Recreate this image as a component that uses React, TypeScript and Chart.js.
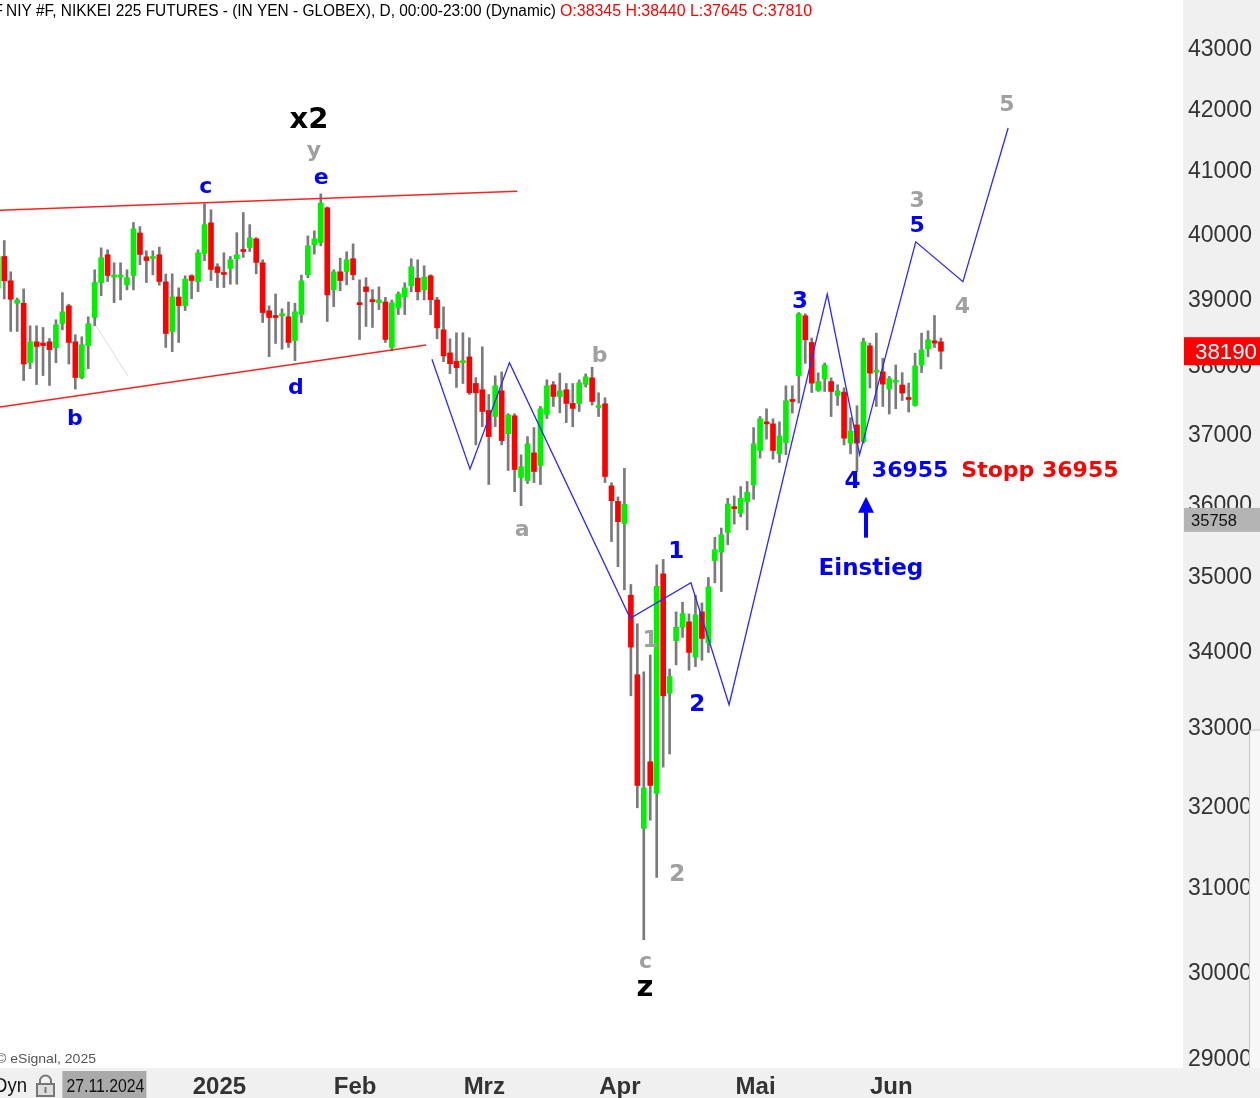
import React, { useEffect, useRef } from 'react';
import { Chart, registerables } from 'chart.js';

Chart.register(...registerables);

// ---------- DATA ----------
const dates = [
  '2024-11-13','2024-11-14','2024-11-15','2024-11-18','2024-11-19','2024-11-20','2024-11-21','2024-11-22','2024-11-25','2024-11-26',
  '2024-11-27','2024-11-28','2024-11-29','2024-12-02','2024-12-03','2024-12-04','2024-12-05','2024-12-06','2024-12-09','2024-12-10',
  '2024-12-11','2024-12-12','2024-12-13','2024-12-16','2024-12-17','2024-12-18','2024-12-19','2024-12-20','2024-12-23','2024-12-24',
  '2024-12-26','2024-12-27','2024-12-30','2024-12-31',
  '2025-01-02','2025-01-03','2025-01-06','2025-01-07','2025-01-08','2025-01-09','2025-01-10','2025-01-13','2025-01-14','2025-01-15',
  '2025-01-16','2025-01-17','2025-01-21','2025-01-22','2025-01-23','2025-01-24','2025-01-27','2025-01-28','2025-01-29','2025-01-30','2025-01-31',
  '2025-02-03','2025-02-04','2025-02-05','2025-02-06','2025-02-07','2025-02-10','2025-02-11','2025-02-12','2025-02-13','2025-02-14',
  '2025-02-17','2025-02-18','2025-02-19','2025-02-20','2025-02-21','2025-02-24','2025-02-25','2025-02-26','2025-02-27','2025-02-28',
  '2025-03-03','2025-03-04','2025-03-05','2025-03-06','2025-03-07','2025-03-10','2025-03-11','2025-03-12','2025-03-13','2025-03-14',
  '2025-03-17','2025-03-18','2025-03-19','2025-03-20','2025-03-21','2025-03-24','2025-03-25','2025-03-26','2025-03-27','2025-03-28','2025-03-31',
  '2025-04-01','2025-04-02','2025-04-03','2025-04-04','2025-04-07','2025-04-08','2025-04-09','2025-04-10','2025-04-11','2025-04-14',
  '2025-04-15','2025-04-16','2025-04-17','2025-04-21','2025-04-22','2025-04-23','2025-04-24','2025-04-25','2025-04-28','2025-04-29','2025-04-30',
  '2025-05-01','2025-05-02','2025-05-05','2025-05-06','2025-05-07','2025-05-08','2025-05-09','2025-05-12','2025-05-13','2025-05-14',
  '2025-05-15','2025-05-16','2025-05-19','2025-05-20','2025-05-21','2025-05-22','2025-05-23','2025-05-27','2025-05-28','2025-05-29','2025-05-30',
  '2025-06-02','2025-06-03','2025-06-04','2025-06-05','2025-06-06','2025-06-09','2025-06-10','2025-06-11','2025-06-12',
];

const open = [
  39141,39627,39253,38911,38911,38019,38330,38311,38330,38244,
  38605,38871,38330,37800,38275,38695,39226,39653,39310,39310,
  39191,39334,39992,39622,39596,39653,39237,38485,39006,38875,
  39330,39242,39673,40150,39468,39376,39442,39592,39730,39766,
  39900,39530,38796,38721,38721,38706,38350,38740,39345,39807,
  39843,40387,39116,39391,39396,39592,38916,39160,38961,38920,
  38931,38245,38845,39006,39176,39294,39116,39330,38961,38510,
  38165,38040,38019,38105,37712,37620,37317,37230,37605,36981,
  37240,36354,36312,36706,36525,37260,37693,37522,37620,37420,
  37420,37697,37795,37361,37415,36236,36017,35710,34724,33663,
  31706,32540,32141,35014,33421,34114,34292,34365,33897,34499,
  34086,35196,35313,35584,35935,35852,36013,36250,36739,37148,
  37123,36692,36853,37474,37829,38721,38320,37610,37781,37741,
  37537,37586,36845,37108,36867,38270,37879,37883,37630,37732,
  37689,37503,37391,37985,38225,38345,38330,
];

const high = [
  39807,39874,39391,38990,39129,38570,38570,38545,38380,38661,
  39073,38896,38435,38405,38706,39422,39761,39730,39530,39530,
  39422,40155,40092,39715,39715,39772,39356,39360,39145,39330,
  39345,39730,40450,40355,39515,39684,39627,39997,40312,40123,
  39920,39576,38871,39052,38826,38931,38911,39340,39946,40024,
  40607,40400,39422,39602,39700,39823,39268,39299,39119,39160,
  39000,38961,39083,39222,39592,39576,39484,39345,39000,38856,
  38375,38465,38465,38390,37800,38255,37551,37825,37883,37270,
  37270,36678,36939,37069,37376,37766,37741,37864,37712,37712,
  37766,37854,37952,37576,37503,36280,36080,36484,34869,34339,
  33701,33924,35137,35211,33738,34499,34629,34470,34724,34619,
  34965,35517,35645,36061,36094,36226,36298,37069,37230,37342,
  37196,37152,37678,37678,38770,38751,38386,37868,38015,37795,
  37693,37649,37211,37386,38386,38311,38460,38085,37815,37985,
  37873,37718,38161,38460,38495,38725,38386,
];

const low = [
  38961,38976,38485,38485,37756,37931,37697,37829,37683,38019,
  38510,38000,37630,37780,37931,38570,39026,39242,38920,38961,
  39114,39114,39500,39226,39345,39186,38245,38184,38320,38800,
  38980,39088,39561,39257,39150,39150,39201,39201,39612,39704,
  39360,38620,38108,38305,38220,38245,38050,38620,39300,39664,
  39792,38635,38860,39103,39191,39268,38365,38560,38545,38815,
  38320,38199,38740,38740,39083,38961,38961,38736,38375,38035,
  37858,37654,37712,37551,36820,37083,36255,37083,36820,36454,
  36155,35957,36269,36283,36255,37200,37376,37284,37142,37083,
  37303,37660,37396,37230,36283,35458,35112,34797,33388,31961,
  30359,31807,31106,32472,32639,33794,34157,33723,33770,33854,
  33957,34892,34774,35414,35700,35800,35621,36047,36631,36902,
  36617,36568,36678,37279,37425,38010,37580,37595,37595,37230,
  37391,36820,36692,36440,36845,37645,37376,37376,37265,37342,
  37463,37294,37380,37873,38108,38245,37927,
];

const close = [
  39622,39253,38971,38961,38000,38330,38260,38275,38214,38585,
  38781,38320,37800,38285,38600,39226,39607,39334,39337,39337,
  39299,40055,39658,39565,39622,39242,38455,39006,38875,39279,
  39257,39684,40123,39427,39380,39350,39576,39653,39704,39915,
  39535,38770,38695,38695,38736,38320,38781,39253,39792,39900,
  40461,39037,39391,39257,39576,39345,38890,39088,38935,38961,
  38365,38916,39052,39145,39468,39086,39310,38965,38540,38120,
  38005,37946,38045,37576,37576,37303,36939,37678,36882,37254,
  36468,36507,36835,36440,37342,37678,37522,37605,37420,37347,
  37722,37810,37449,37386,36369,36027,35734,35976,34028,32241,
  32209,32241,34845,33388,33640,34292,34475,33957,34460,34143,
  34836,35344,35552,35981,35916,36061,36146,36835,37196,37123,
  36739,36949,37459,37449,38751,38360,37718,37741,37985,37595,
  37605,36916,37020,36845,38330,37864,37902,37703,37785,37756,
  37572,37478,37971,38210,38360,38311,38190,
];

// price-axis tick labels
const yTickValues = [29000,30000,31000,32000,33000,34000,35000,36000,37000,38000,39000,40000,41000,42000,43000];
// German month abbreviations for the time axis
const monthNames = ['Jan','Feb','Mrz','Apr','Mai','Jun','Jul','Aug','Sep','Okt','Nov','Dez'];
const firstLabelledMonth = '2025-01';

// Elliott-wave projection path (bar index, price)
const waveIdx = [67.2, 73.1, 79.2, 97.9, 107.3, 113.2, 128.4, 133.4, 142.1, 149.4, 156.4];
const wavePrice = [38070, 36474, 38020, 34412, 34892, 33272, 39051, 36679, 39854, 39239, 41663];

// triangle boundary lines
const upperLineIdx = [0.34, 80.4];
const upperLinePrice = [40347, 40647];
const lowerLineIdx = [0.34, 66.3];
const lowerLinePrice = [37367, 38281];
const helperIdx = [15.2, 20.2];
const helperPrice = [38570, 37814];

const stopPrice = 36955;
const markerPrice = 35758;
const titleInfo = 'NIY #F, NIKKEI 225 FUTURES - (IN YEN - GLOBEX), D, 00:00-23:00 (Dynamic)';
const titleOHLC = 'O:38345 H:38440 L:37645 C:37810';
const lockDate = '2024-11-27';

const BLUE = '#0000ff';
const GRAY = '#a0a0a0';
const BLACK = '#000000';
const RED = '#ff0000';
const GREEN = '#00f000';

// wave labels (text placed at bar index / price)
const waveLabels = [
  { text: 'x2', i: 48.0, p: 41827, color: BLACK, size: 29 },
  { text: 'y', i: 48.9, p: 41261, color: GRAY, size: 22 },
  { text: 'c', i: 32.1, p: 40718, color: BLUE, size: 22 },
  { text: 'e', i: 50.0, p: 40860, color: BLUE, size: 22 },
  { text: 'b', i: 11.95, p: 37225, color: BLUE, size: 22 },
  { text: 'd', i: 46.0, p: 37678, color: BLUE, size: 22 },
  { text: 'b', i: 93.2, p: 38150, color: GRAY, size: 22 },
  { text: 'a', i: 81.1, p: 35621, color: GRAY, size: 22 },
  { text: '1', i: 101.1, p: 34137, color: GRAY, size: 23 },
  { text: '1', i: 105.1, p: 35344, color: BLUE, size: 23 },
  { text: '2', i: 108.2, p: 33298, color: BLUE, size: 23 },
  { text: '2', i: 105.1, p: 31160, color: GRAY, size: 23 },
  { text: 'c', i: 100.2, p: 30096, color: GRAY, size: 22 },
  { text: 'z', i: 100.2, p: 29794, color: BLACK, size: 29 },
  { text: '3', i: 124.2, p: 38961, color: BLUE, size: 23 },
  { text: '4', i: 132.3, p: 36329, color: BLUE, size: 23 },
  { text: String(stopPrice), i: 141.2, p: 36471, color: BLUE, size: 22 },
  { text: 'Stopp ' + stopPrice, i: 161.3, p: 36440, color: RED, size: 22 },
  { text: 'Einstieg', i: 135.2, p: 35086, color: BLUE, size: 23 },
  { text: '3', i: 142.3, p: 40528, color: GRAY, size: 22 },
  { text: '5', i: 142.3, p: 40134, color: BLUE, size: 22 },
  { text: '4', i: 149.3, p: 38886, color: GRAY, size: 22 },
  { text: '5', i: 156.2, p: 42070, color: GRAY, size: 22 },
];
const entryArrow = { i: 134.4, from: 35512, to: 36084 };

// ---------- helpers ----------
function drawCentered(ctx: CanvasRenderingContext2D, text: string, cx: number, cy: number, font: string, color: string) {
  ctx.font = font;
  ctx.fillStyle = color;
  ctx.textAlign = 'left';
  ctx.textBaseline = 'alphabetic';
  const m = ctx.measureText(text);
  const x = cx - (m.actualBoundingBoxRight - m.actualBoundingBoxLeft) / 2;
  const y = cy + (m.actualBoundingBoxAscent - m.actualBoundingBoxDescent) / 2;
  ctx.fillText(text, x, y);
}

function drawFit(ctx: CanvasRenderingContext2D, text: string, x: number, baseline: number, width: number, font: string, color: string) {
  ctx.save();
  ctx.font = font;
  ctx.fillStyle = color;
  ctx.textAlign = 'left';
  ctx.textBaseline = 'alphabetic';
  const w = ctx.measureText(text).width || 1;
  ctx.translate(x, baseline);
  ctx.scale(width / w, 1);
  ctx.fillText(text, 0, 0);
  ctx.restore();
}

const monthStarts: number[] = [];
for (let k = 1; k < dates.length; k++) {
  if (dates[k].slice(0, 7) >= firstLabelledMonth && dates[k].slice(5, 7) !== dates[k - 1].slice(5, 7)) monthStarts.push(k);
}
function monthLabel(idx: number) {
  const d = dates[idx];
  if (!d) return '';
  const m = parseInt(d.slice(5, 7), 10);
  return m === 1 ? d.slice(0, 4) : monthNames[m - 1];
}

const decorPlugin = {
  id: 'decor',
  beforeDraw(chart: any) {
    const { ctx, chartArea, width, height } = chart;
    ctx.save();
    ctx.fillStyle = '#ffffff';
    ctx.fillRect(0, 0, width, height);
    ctx.fillStyle = '#f0f0f0';
    ctx.fillRect(chartArea.right, 0, width - chartArea.right, chartArea.bottom);
    ctx.fillRect(0, chartArea.bottom, width, height - chartArea.bottom);
    ctx.restore();
  },
  afterDraw(chart: any) {
    const { ctx, chartArea, width } = chart;
    const xs = chart.scales.x;
    const ys = chart.scales.y;
    ctx.save();

    // wave labels
    for (const l of waveLabels) {
      drawCentered(ctx, l.text, xs.getPixelForValue(l.i), ys.getPixelForValue(l.p), `bold ${l.size}px "DejaVu Sans", Verdana, sans-serif`, l.color);
    }

    // entry arrow
    const ax = xs.getPixelForValue(entryArrow.i);
    const ay0 = ys.getPixelForValue(entryArrow.from);
    const ay1 = ys.getPixelForValue(entryArrow.to);
    ctx.fillStyle = BLUE;
    ctx.fillRect(ax - 2, ay1 + 14, 4, ay0 - ay1 - 14);
    ctx.beginPath();
    ctx.moveTo(ax, ay1);
    ctx.lineTo(ax + 8, ay1 + 16);
    ctx.lineTo(ax - 8, ay1 + 16);
    ctx.closePath();
    ctx.fill();

    // title line
    drawFit(ctx, 'F', -7, 15.5, 10, '16px "Liberation Sans", Arial, sans-serif', '#000');
    drawFit(ctx, titleInfo, 6, 15.5, 550, '16px "Liberation Sans", Arial, sans-serif', '#000');
    drawFit(ctx, titleOHLC, 560, 15.5, 252, '16px "Liberation Sans", Arial, sans-serif', RED);

    // copyright
    drawFit(ctx, '\u00a9 eSignal, 2025', -4, 1063, 100, '13px "Liberation Sans", Arial, sans-serif', '#555');

    // scrollbar strip at the right edge of the price axis
    ctx.fillStyle = '#f7f7f7';
    ctx.fillRect(1249.5, 730, 11, chartArea.bottom - 730);
    ctx.strokeStyle = '#c4c4c4';
    ctx.lineWidth = 1;
    ctx.beginPath();
    ctx.moveTo(1249.5, chartArea.bottom);
    ctx.lineTo(1249.5, 734);
    ctx.quadraticCurveTo(1249.5, 730, 1254, 730);
    ctx.lineTo(1260, 730);
    ctx.stroke();

    // price boxes on the axis
    const lastPrice = close[close.length - 1];
    const yl = ys.getPixelForValue(lastPrice);
    ctx.fillStyle = RED;
    ctx.fillRect(chartArea.right + 1, yl - 14, width - chartArea.right, 28);
    drawFit(ctx, String(lastPrice), 1195, yl + 8, 62, '22px "Liberation Sans", Arial, sans-serif', '#fff');
    const ym = ys.getPixelForValue(markerPrice);
    ctx.fillStyle = '#b4b4b4';
    ctx.fillRect(chartArea.right + 1, ym - 12, width - chartArea.right, 24);
    drawFit(ctx, String(markerPrice), 1191, ym + 6.5, 46, '17px "Liberation Sans", Arial, sans-serif', '#111');

    // bottom band: Dyn, lock, date box
    const by = chartArea.bottom;
    drawFit(ctx, 'Dyn', -6, by + 24, 33, '20px "Liberation Sans", Arial, sans-serif', '#111');
    ctx.strokeStyle = '#777';
    ctx.lineWidth = 2;
    ctx.beginPath();
    ctx.arc(45.5, by + 13, 5.5, Math.PI, 0);
    ctx.lineTo(51, by + 16);
    ctx.moveTo(40, by + 16);
    ctx.lineTo(40, by + 13);
    ctx.stroke();
    ctx.fillStyle = '#ddd';
    ctx.fillRect(37, by + 16, 17, 12);
    ctx.strokeRect(37, by + 16, 17, 12);
    ctx.fillStyle = '#777';
    ctx.fillRect(44.5, by + 19, 2, 6);
    const li = dates.indexOf(lockDate);
    const bx = xs.getPixelForValue(li);
    ctx.fillStyle = '#aaaaaa';
    ctx.fillRect(bx, by + 3, 84, 27);
    const dd = lockDate.slice(8, 10) + '.' + lockDate.slice(5, 7) + '.' + lockDate.slice(0, 4);
    drawFit(ctx, dd, bx + 4, by + 24, 78, '18px "Liberation Sans", Arial, sans-serif', '#111');

    ctx.restore();
  },
};

export default function App() {
  const ref = useRef<HTMLCanvasElement | null>(null);
  useEffect(() => {
    if (!ref.current) return;
    const bodies = open.map((o, i) => ({ x: i, y: [o, close[i]] }));
    const bodyColors = open.map((o, i) => (close[i] >= o ? GREEN : RED));
    const wicks = low.map((l, i) => ({ x: i, y: [l, high[i]] }));
    const chart = new Chart(ref.current, {
      type: 'bar',
      data: {
        datasets: [
          {
            type: 'line',
            data: waveIdx.map((x, k) => ({ x, y: wavePrice[k] })),
            borderColor: '#2a2aff',
            borderWidth: 1.3,
            pointRadius: 0,
            tension: 0,
            order: -2,
          } as any,
          {
            type: 'line',
            data: upperLineIdx.map((x, k) => ({ x, y: upperLinePrice[k] })),
            borderColor: '#ff2020',
            borderWidth: 1.5,
            pointRadius: 0,
            order: -1,
          } as any,
          {
            type: 'line',
            data: lowerLineIdx.map((x, k) => ({ x, y: lowerLinePrice[k] })),
            borderColor: '#ff2020',
            borderWidth: 1.5,
            pointRadius: 0,
            order: -1,
          } as any,
          {
            type: 'line',
            data: helperIdx.map((x, k) => ({ x, y: helperPrice[k] })),
            borderColor: '#dcdcdc',
            borderWidth: 1,
            pointRadius: 0,
            order: -1,
          } as any,
          {
            type: 'bar',
            data: bodies,
            backgroundColor: bodyColors,
            borderWidth: 0,
            barThickness: 5,
            minBarLength: 2,
            grouped: false,
            order: 0,
          } as any,
          {
            type: 'bar',
            data: wicks,
            backgroundColor: '#7a7a7a',
            borderWidth: 0,
            barThickness: 2,
            grouped: false,
            order: 1,
          } as any,
        ],
      },
      options: {
        responsive: false,
        devicePixelRatio: 1,
        animation: false,
        events: [],
        layout: { padding: 0 },
        plugins: { legend: { display: false }, tooltip: { enabled: false }, title: { display: false } },
        scales: {
          x: {
            type: 'linear',
            min: 0.34,
            max: 183.47,
            offset: false,
            grid: { display: false, drawTicks: false },
            border: { display: false },
            afterBuildTicks: (axis: any) => {
              axis.ticks = monthStarts.map((v) => ({ value: v }));
            },
            afterFit: (axis: any) => {
              axis.height = 30;
              axis.paddingLeft = 0;
              axis.paddingRight = 0;
            },
            ticks: {
              autoSkip: false,
              maxRotation: 0,
              padding: 5,
              labelOffset: 2,
              color: '#333',
              font: { family: '"Liberation Sans", Arial, sans-serif', size: 24, weight: 'bold' },
              callback: (v: any) => monthLabel(Number(v)),
            },
          },
          y: {
            type: 'logarithmic',
            position: 'right',
            min: 28877.3,
            max: 43795.3,
            grid: { display: false, drawTicks: false },
            border: { display: false },
            afterBuildTicks: (axis: any) => {
              axis.ticks = yTickValues.map((v) => ({ value: v }));
            },
            afterFit: (axis: any) => {
              axis.width = 77;
              axis.paddingTop = 0;
              axis.paddingBottom = 0;
            },
            ticks: {
              padding: 5,
              labelOffset: 3,
              crossAlign: 'near',
              color: '#333',
              font: { family: '"Liberation Sans", Arial, sans-serif', size: 23 },
              callback: (v: any) => String(v),
            },
          },
        },
      } as any,
      plugins: [decorPlugin],
    });
    return () => chart.destroy();
  }, []);
  return (
    <div style={{ position: 'absolute', left: 0, top: 0, width: 1260, height: 1098, overflow: 'hidden', background: '#fff' }}>
      <canvas ref={ref} width={1260} height={1098} style={{ display: 'block', width: 1260, height: 1098 }} />
    </div>
  );
}
